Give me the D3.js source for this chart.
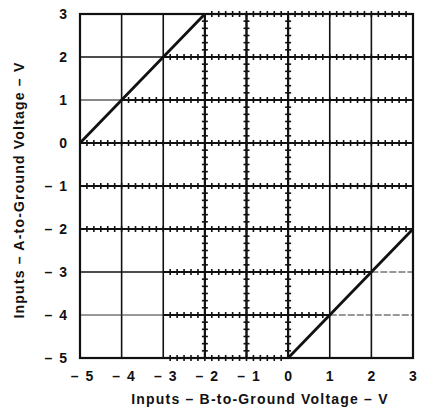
<!DOCTYPE html>
<html>
<head>
<meta charset="utf-8">
<script src="https://cdn.jsdelivr.net/npm/d3@7"></script>
<style>
  body { margin: 0; background: #fff; }
  text { font-family: "Liberation Sans", Arial, sans-serif; font-weight: bold; fill: #111; }
</style>
</head>
<body>
<div id="display"></div>
<script>
// axis values
var xTicks = [-5, -4, -3, -2, -1, 0, 1, 2, 3];
var yTicks = [-5, -4, -3, -2, -1, 0, 1, 2, 3];

// the two boundary lines
var upperLine = [[-5, 0], [-2, 3]];
var lowerLine = [[0, -5], [3, -2]];

// hatched grid segments (operating region)
var hatchRows = [
  {y: 3, x0: -2, x1: 3},
  {y: 2, x0: -3, x1: 3},
  {y: 1, x0: -4, x1: 3},
  {y: 0, x0: -5, x1: 3},
  {y: -1, x0: -5, x1: 3},
  {y: -2, x0: -5, x1: 3},
  {y: -3, x0: -3, x1: 2},
  {y: -4, x0: -3, x1: 1},
  {y: -5, x0: -3, x1: 0}
];
var hatchCols = [
  {x: -2, y0: -5, y1: 3},
  {x: -1, y0: -5, y1: 3},
  {x: 0, y0: -5, y1: 3}
];

// thin / dashed leftovers
var thinRows = [
  {y: -4, x0: -5, x1: -3, dash: null},
  {y: -3, x0: 2, x1: 3, dash: "7,2"},
  {y: -4, x0: 1, x1: 3, dash: "7,2"}
];

var W = 422, H = 415;
var pLeft = 80, pRight = 413, pTop = 14, pBottom = 358;

var x = d3.scaleLinear().domain([-5, 3]).range([pLeft, pRight]);
var y = d3.scaleLinear().domain([-5, 3]).range([pBottom, pTop]);

var svg = d3.select("#display").append("svg")
  .attr("width", W).attr("height", H);

// plain grid
svg.append("g").selectAll("line")
  .data(xTicks.slice(1, -1)).enter().append("line")
  .attr("x1", function(d) { return x(d); }).attr("x2", function(d) { return x(d); })
  .attr("y1", y(-5)).attr("y2", y(3))
  .attr("stroke", "#111").attr("stroke-width", 1.6);

svg.append("g").selectAll("line")
  .data(yTicks.filter(function(d) { return d != -4 && d != -5 && d != 3; })).enter().append("line")
  .attr("x1", x(-5)).attr("x2", function(d) { return d == -3 ? x(-3) : x(3); })
  .attr("y1", function(d) { return y(d); }).attr("y2", function(d) { return y(d); })
  .attr("stroke", "#111").attr("stroke-width", function(d) { return d == 1 ? 1.2 : 1.6; });

svg.append("g").selectAll("line")
  .data(thinRows).enter().append("line")
  .attr("x1", function(d) { return x(d.x0); }).attr("x2", function(d) { return x(d.x1); })
  .attr("y1", function(d) { return y(d.y); }).attr("y2", function(d) { return y(d.y); })
  .attr("stroke", "#333").attr("stroke-width", 1)
  .attr("stroke-dasharray", function(d) { return d.dash; });

// hatched segments
var step = 1 / 6;
var hatch = svg.append("g");
hatchRows.forEach(function(r) {
  hatch.append("line")
    .attr("x1", x(r.x0)).attr("x2", x(r.x1))
    .attr("y1", y(r.y)).attr("y2", y(r.y))
    .attr("stroke", "#111").attr("stroke-width", 2);
  var marks = d3.range(r.x0 + step, r.x1 - 1e-6, step);
  hatch.selectAll(null).data(marks).enter().append("line")
    .attr("x1", function(d) { return x(d); }).attr("x2", function(d) { return x(d); })
    .attr("y1", y(r.y) - 3).attr("y2", y(r.y) + 3)
    .attr("stroke", "#111").attr("stroke-width", 1.6);
});
hatchCols.forEach(function(c) {
  hatch.append("line")
    .attr("x1", x(c.x)).attr("x2", x(c.x))
    .attr("y1", y(c.y0)).attr("y2", y(c.y1))
    .attr("stroke", "#111").attr("stroke-width", 2.2);
  var marks = d3.range(c.y0 + step, c.y1 - 1e-6, step);
  hatch.selectAll(null).data(marks).enter().append("line")
    .attr("x1", x(c.x) - 3).attr("x2", x(c.x) + 3)
    .attr("y1", function(d) { return y(d); }).attr("y2", function(d) { return y(d); })
    .attr("stroke", "#111").attr("stroke-width", 1.6);
});

// frame
svg.append("rect")
  .attr("x", x(-5)).attr("y", y(3))
  .attr("width", x(3) - x(-5)).attr("height", y(-5) - y(3))
  .attr("fill", "none").attr("stroke", "#111").attr("stroke-width", 2.2);

// boundary lines
var line = d3.line().x(function(d) { return x(d[0]); }).y(function(d) { return y(d[1]); });
[upperLine, lowerLine].forEach(function(l) {
  svg.append("path").attr("d", line(l))
    .attr("fill", "none").attr("stroke", "#111").attr("stroke-width", 2.8);
});

function fmt(d) { return d < 0 ? "\u2013\u2002" + Math.abs(d) : "" + d; }

// tick labels
svg.append("g").selectAll("text")
  .data(xTicks).enter().append("text")
  .attr("x", function(d) { return d < 0 ? x(d) + 2 : x(d); }).attr("y", 381)
  .attr("text-anchor", "middle").attr("font-size", 14)
  .text(fmt);

svg.append("g").selectAll("text")
  .data(yTicks).enter().append("text")
  .attr("x", 67).attr("y", function(d) { return y(d) + 5; })
  .attr("text-anchor", "end").attr("font-size", 14)
  .text(fmt);

// axis titles
svg.append("text")
  .attr("x", 260).attr("y", 404)
  .attr("text-anchor", "middle").attr("font-size", 14)
  .attr("letter-spacing", 1.2)
  .text("Inputs \u2013 B-to-Ground Voltage \u2013 V");

svg.append("text")
  .attr("transform", "translate(24,190) rotate(-90)")
  .attr("text-anchor", "middle").attr("font-size", 14)
  .attr("letter-spacing", 1.2)
  .text("Inputs \u2013 A-to-Ground Voltage \u2013 V");
</script>
</body>
</html>
